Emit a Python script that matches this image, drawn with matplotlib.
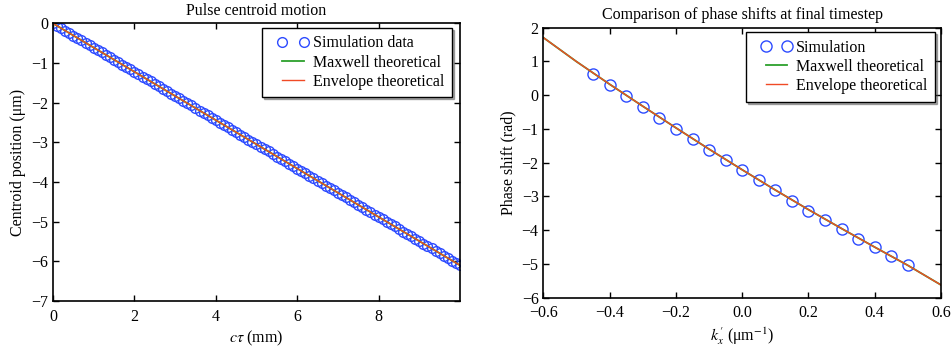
import matplotlib
matplotlib.use("Agg")
import matplotlib.pyplot as plt
from matplotlib.lines import Line2D
from matplotlib.legend_handler import HandlerLine2D

plt.rcParams["font.family"] = ["Liberation Serif", "DejaVu Serif"]
plt.rcParams["mathtext.fontset"] = "stix"
plt.rcParams["axes.unicode_minus"] = True

# --- left panel: pulse centroid vs propagation distance ---
ct_mm = [
    0.0, 0.1, 0.2, 0.3, 0.4, 0.5, 0.6, 0.7, 0.8, 0.9,
    1.0, 1.1, 1.2, 1.3, 1.4, 1.5, 1.6, 1.7, 1.8, 1.9,
    2.0, 2.1, 2.2, 2.3, 2.4, 2.5, 2.6, 2.7, 2.8, 2.9,
    3.0, 3.1, 3.2, 3.3, 3.4, 3.5, 3.6, 3.7, 3.8, 3.9,
    4.0, 4.1, 4.2, 4.3, 4.4, 4.5, 4.6, 4.7, 4.8, 4.9,
    5.0, 5.1, 5.2, 5.3, 5.4, 5.5, 5.6, 5.7, 5.8, 5.9,
    6.0, 6.1, 6.2, 6.3, 6.4, 6.5, 6.6, 6.7, 6.8, 6.9,
    7.0, 7.1, 7.2, 7.3, 7.4, 7.5, 7.6, 7.7, 7.8, 7.9,
    8.0, 8.1, 8.2, 8.3, 8.4, 8.5, 8.6, 8.7, 8.8, 8.9,
    9.0, 9.1, 9.2, 9.3, 9.4, 9.5, 9.6, 9.7, 9.8, 9.9,
    10.0,
]
centroid_sim = [
    0.00, -0.06, -0.12, -0.18, -0.24, -0.31, -0.37, -0.43, -0.49, -0.55,
    -0.61, -0.67, -0.73, -0.79, -0.85, -0.92, -0.98, -1.04, -1.10, -1.16,
    -1.22, -1.28, -1.34, -1.40, -1.46, -1.53, -1.59, -1.65, -1.71, -1.77,
    -1.83, -1.89, -1.95, -2.01, -2.07, -2.14, -2.20, -2.26, -2.32, -2.38,
    -2.44, -2.50, -2.56, -2.62, -2.68, -2.75, -2.81, -2.87, -2.93, -2.99,
    -3.05, -3.11, -3.17, -3.23, -3.29, -3.36, -3.42, -3.48, -3.54, -3.60,
    -3.66, -3.72, -3.78, -3.84, -3.90, -3.97, -4.03, -4.09, -4.15, -4.21,
    -4.27, -4.33, -4.39, -4.45, -4.51, -4.58, -4.64, -4.70, -4.76, -4.82,
    -4.88, -4.94, -5.00, -5.06, -5.12, -5.19, -5.25, -5.31, -5.37, -5.43,
    -5.49, -5.55, -5.61, -5.67, -5.73, -5.80, -5.86, -5.92, -5.98, -6.04,
    -6.10,
]
ct_theory = [0.0, 2.0, 4.0, 6.0, 8.0, 10.0]
centroid_maxwell = [0.00, -1.22, -2.44, -3.66, -4.88, -6.10]
centroid_envelope = [0.00, -1.22, -2.44, -3.66, -4.88, -6.10]

# --- right panel: phase shift vs transverse wavenumber ---
kx_sim = [-0.45, -0.40, -0.35, -0.30, -0.25, -0.20, -0.15, -0.10, -0.05, 0.00,
          0.05, 0.10, 0.15, 0.20, 0.25, 0.30, 0.35, 0.40, 0.45, 0.50]
phase_sim = [0.62, 0.31, -0.03, -0.35, -0.67, -1.00, -1.30, -1.61, -1.91, -2.21,
             -2.52, -2.82, -3.12, -3.42, -3.69, -3.97, -4.25, -4.51, -4.77, -5.03]
kx_theory = [-0.6, -0.5, -0.4, -0.3, -0.2, -0.1, 0.0, 0.1, 0.2, 0.3, 0.4, 0.5, 0.6]
phase_maxwell = [1.70, 0.99, 0.32, -0.33, -0.97, -1.60, -2.21, -2.81, -3.39, -3.95, -4.50, -5.04, -5.62]
phase_envelope = [1.70, 0.99, 0.32, -0.33, -0.97, -1.60, -2.21, -2.81, -3.39, -3.95, -4.50, -5.04, -5.62]

SIM_COLOR = "#2d4bff"
MAXWELL_COLOR = "#2ca02c"
ENVELOPE_COLOR = "#f04a25"
FS = 11.5


def style_axes(ax):
    ax.tick_params(direction="in", top=True, right=True, length=4, width=1, labelsize=FS)
    ax.tick_params(axis="x", pad=5.5)
    for s in ax.spines.values():
        s.set_linewidth(1.2)


def add_legend(ax, anchor):
    leg = ax.legend(loc="upper right", bbox_to_anchor=anchor, borderaxespad=0,
                    numpoints=2, fontsize=FS, fancybox=False,
                    shadow={"ox": 1.5, "oy": -1.5, "alpha": 0.45},
                    handlelength=2.9, handletextpad=-0.22, borderpad=0.48,
                    labelspacing=0.19,
                    handler_map={Line2D: HandlerLine2D(marker_pad=0.78)})
    leg.get_frame().set_edgecolor("black")
    leg.get_frame().set_linewidth(1.0)
    return leg


fig = plt.figure(figsize=(9.53, 3.49), dpi=100)
ax1 = fig.add_axes([0.0556, 0.1375, 0.4271, 0.7955])
ax2 = fig.add_axes([0.5703, 0.1467, 0.4171, 0.7743])

# left
ax1.plot(ct_mm, centroid_sim, "o", ms=7, mfc="none", mec=SIM_COLOR, mew=1.0,
         label="Simulation data")
ax1.plot(ct_theory, centroid_maxwell, color=MAXWELL_COLOR, lw=1.3, label="Maxwell theoretical")
ax1.plot(ct_theory, centroid_envelope, color=ENVELOPE_COLOR, lw=1.0, label="Envelope theoretical")
ax1.set_xlim(0, 10.0)
ax1.set_ylim(-7, 0)
ax1.set_xticks([0, 2, 4, 6, 8])
ax1.set_yticks([0, -1, -2, -3, -4, -5, -6, -7])
ax1.set_xlabel(r"$c\tau$ (mm)", fontsize=FS, labelpad=3)
ax1.set_ylabel("Centroid position (μm)", fontsize=FS)
ax1.set_title("Pulse centroid motion", fontsize=FS)
style_axes(ax1)
add_legend(ax1, (0.980, 0.984))

# right
ax2.plot(kx_sim, phase_sim, "o", ms=8, mfc="none", mec=SIM_COLOR, mew=1.0, label="Simulation")
ax2.plot(kx_theory, phase_maxwell, color=MAXWELL_COLOR, lw=1.3, label="Maxwell theoretical")
ax2.plot(kx_theory, phase_envelope, color=ENVELOPE_COLOR, lw=1.0, label="Envelope theoretical")
ax2.set_xlim(-0.6, 0.6)
ax2.set_ylim(-6, 2)
ax2.set_xticks([-0.6, -0.4, -0.2, 0.0, 0.2, 0.4, 0.6])
ax2.set_yticks([2, 1, 0, -1, -2, -3, -4, -5, -6])
ax2.set_xlabel(r"$k_x'$ (μm$^{-1}$)", fontsize=FS, labelpad=3)
ax2.set_ylabel("Phase shift (rad)", fontsize=FS)
ax2.set_title("Comparison of phase shifts at final timestep", fontsize=FS)
style_axes(ax2)
add_legend(ax2, (0.985, 0.983))

fig.savefig("out.png", dpi=100)
